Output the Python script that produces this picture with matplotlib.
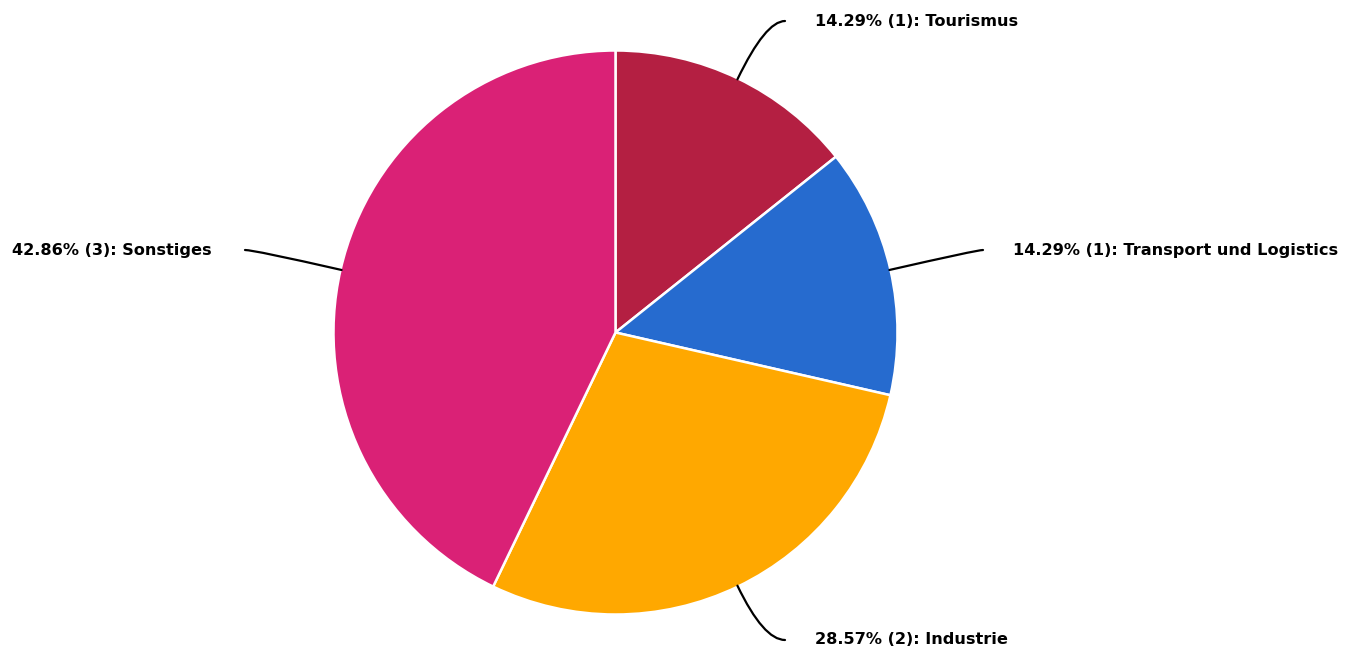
import numpy as np
import matplotlib
matplotlib.use("Agg")
import matplotlib.pyplot as plt
from matplotlib.path import Path
from matplotlib.patches import PathPatch

categories = ["Tourismus", "Transport und Logistics", "Industrie", "Sonstiges"]
counts = [1, 1, 2, 3]
colors = ["#B41F42", "#266BCF", "#FFA800", "#DA2176"]

# layout (pixel space)
W, H = 1356, 653
cx, cy, R = 615.5, 332.5, 282
# label end points (x, y)
label_ends = [(785, 21), (983, 250), (785, 640), (245, 250)]

fig = plt.figure(figsize=(W / 100, H / 100), dpi=100)
ax = fig.add_axes([0, 0, 1, 1])

# y axis points down, so startangle=-90 is the top and counterclock turns clockwise on screen
wedges, _ = ax.pie(counts, colors=colors, startangle=-90, counterclock=True,
                   center=(cx, cy), radius=R,
                   wedgeprops=dict(edgecolor="white", linewidth=1.8))
ax.set_xlim(0, W)
ax.set_ylim(H, 0)
ax.set_aspect("equal")
ax.axis("off")

total = sum(counts)
start = 90.0
for i, (cat, c) in enumerate(zip(categories, counts)):
    frac = c / total
    sweep = 360 * frac
    mid = start - sweep / 2
    start -= sweep
    th = np.deg2rad(mid)
    dx, dy = np.cos(th), -np.sin(th)
    sx, sy = cx + (R - 1) * dx, cy + (R - 1) * dy
    ex, ey = label_ends[i]
    t = (ey - sy) / dy
    ctrl = (sx + dx * t, ey)
    path = Path([(sx, sy), ctrl, (ex, ey)], [Path.MOVETO, Path.CURVE3, Path.CURVE3])
    ax.add_patch(PathPatch(path, fc="none", ec="black", lw=1.6, capstyle="round"))
    pct = 100 * frac
    txt = f"{pct:.2f}% ({c}): {cat}"
    if ex > cx:
        ax.text(ex + 30, ey, txt, ha="left", va="center", fontsize=11.6,
                fontweight="bold", family="DejaVu Sans", clip_on=False)
    else:
        ax.text(ex - 33, ey, txt, ha="right", va="center", fontsize=11.6,
                fontweight="bold", family="DejaVu Sans", clip_on=False)

fig.savefig("out.png", dpi=100)
